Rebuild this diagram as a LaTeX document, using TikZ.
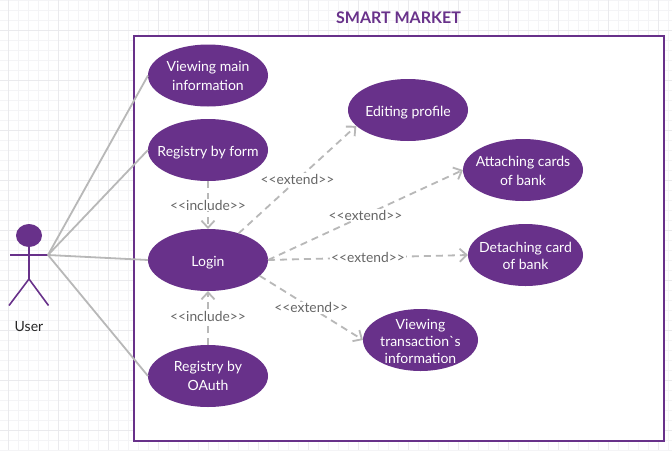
\documentclass[tikz,border=0pt]{standalone}
\usepackage{fontspec}
\setmainfont{Lato}
\newfontfamily\plainlato{Lato}
\usetikzlibrary{shapes.geometric,arrows.meta}
\definecolor{purp}{HTML}{68318A}
\definecolor{conn}{HTML}{B8B8B8}
\definecolor{gridc}{HTML}{F4F4F6}
\definecolor{gridm}{HTML}{EAEAED}
\definecolor{lab}{HTML}{666666}
\newcommand\uctext[3]{\raisebox{-#1pt}[\height][\depth]{\fontsize{14}{#2}\selectfont\begin{tabular}{@{}c@{}}#3\end{tabular}}}
\tikzset{
  x=1pt,y=-1pt,
  usecase/.style={ellipse,fill=purp,text=white,minimum width=#1,minimum height=62,inner sep=-25,outer sep=0},
  usecase/.default=120,
  assoc/.style={draw=conn,line width=1.8},
  dep/.style={draw=conn,line width=1.8,dash pattern=on 7 off 5,-{Straight Barb[length=7,width=13,line width=1.8,sep=0]}},
  deplabel/.style={fill=white,text=lab,inner sep=1,font=\fontsize{13.8}{16}\selectfont},
  actorline/.style={draw=purp,line width=1.6},
}
\begin{document}
\begin{tikzpicture}
\useasboundingbox (0,0) rectangle (672,450);
\fill[white] (0,0) rectangle (672,450);
\foreach \gx in {0,...,66} {\draw[gridc,line width=.7] ({8.3+10*\gx},0) -- ({8.3+10*\gx},450);}
\foreach \gy in {0,...,45} {\draw[gridc,line width=.7] (0,{10*\gy}) -- (672,{10*\gy});}
\foreach \gx in {0,...,13} {\draw[gridm,line width=.8] ({8.3+50*\gx},0) -- ({8.3+50*\gx},450);}
\foreach \gy in {0,...,8} {\draw[gridm,line width=.8] (0,{30+50*\gy}) -- (672,{30+50*\gy});}
\node[draw=purp,fill=white,line width=2,minimum width=530,minimum height=405,inner sep=0,outer sep=0,anchor=north west] (frame) at (134,36) {};
\node[text=purp,font=\fontsize{16}{18}\selectfont\bfseries] (title) at (398.5,18) {SMART MARKET};
\node[usecase] (view) at (208,75.5) {\uctext{1.5}{19}{Viewing main\\information}};
\node[usecase] (form) at (208,150) {\uctext{2.5}{19}{Registry by form}};
\node[usecase] (login) at (208,260) {\uctext{2.5}{19}{Login}};
\node[usecase] (oauth) at (208,376) {\uctext{1.5}{19}{Registry by\\OAuth}};
\node[usecase] (edit) at (408,110) {\uctext{2.5}{19}{Editing profile}};
\node[usecase] (attach) at (523,170) {\uctext{2.5}{19}{Attaching cards\\of bank}};
\node[usecase=115] (detach) at (525.5,255) {\uctext{2.5}{17}{Detaching card\\of bank}};
\node[usecase=115] (trans) at (420.5,340) {\uctext{3.5}{17}{Viewing\\transaction{\plainlato\char96}s\\information}};
% actor
\node[ellipse,fill=purp,minimum width=26,minimum height=23,inner sep=0,outer sep=0] (head) at (29,235.5) {};
\coordinate (hip) at (29,279);
\coordinate (handl) at (10,255);
\coordinate (handr) at (48,255);
\coordinate (footl) at (9,305.5);
\coordinate (footr) at (48.5,305.5);
\draw[actorline] (head.south) -- (hip);
\draw[actorline] (handl) -- (handr);
\draw[actorline] (footl) -- (hip) -- (footr);
\node[font=\fontsize{14}{16}\selectfont,text=black!85] (user) at (29,327) {User};
% associations
\draw[assoc] (handr) -- (view.west);
\draw[assoc] (handr) -- (form.west);
\draw[assoc] (handr) -- (login.west);
\draw[assoc] (handr) -- (oauth.west);
% dependencies
\draw[dep] (form.south) -- node[deplabel,pos=.5] (l1) {<{}<include>{}>} (login.north);
\draw[dep] (oauth.north) -- node[deplabel,pos=.53] (l2) {<{}<include>{}>} (login.south);
\draw[dep] (login.41) -- node[deplabel,pos=.5] (l3) {<{}<extend>{}>} (edit.197);
\draw[dep] (login.east) -- node[deplabel,pos=.5] (l4) {<{}<extend>{}>} (attach.west);
\draw[dep] (login.east) -- node[deplabel,pos=.5] (l5) {<{}<extend>{}>} (detach.west);
\draw[dep] (login.-17) -- node[deplabel,pos=.5] (l6) {<{}<extend>{}>} (trans.west);
\end{tikzpicture}
\end{document}
